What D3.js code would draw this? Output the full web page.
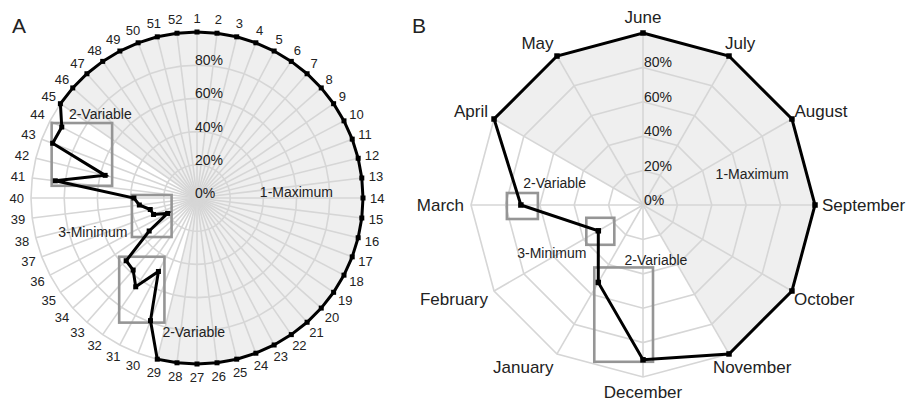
<!DOCTYPE html>
<html><head><meta charset="utf-8">
<script src="https://cdn.jsdelivr.net/npm/d3@7/dist/d3.min.js"></script>
<style>body{margin:0;background:#fff;} text{font-family:"Liberation Sans",Arial,sans-serif;fill:#222;}</style>
</head><body><svg id="chart" width="908" height="402"></svg>
<script>
// ---------- data ----------
const weeks = ["1","2","3","4","5","6","7","8","9","10","11","12","13","14","15","16","17","18","19","20","21","22","23","24","25","26","27","28","29","30","31","32","33","34","35","36","37","38","39","40","41","42","43","44","45","46","47","48","49","50","51","52"];
const weeklyShare = [100,100,100,100,100,100,100,100,100,100,100,100,100,100,100,100,100,100,100,100,100,100,100,100,100,100,100,100,100,
  79,50,65,58,57,35,20,28,29,35,38,86,57,93,92,
  100,100,100,100,100,100,100,100];
const weeklyMaxArea = [100,100,100,100,100,100,100,100,100,100,100,100,100,100,100,100,100,100,100,100,100,100,100,100,100,100,100,100,100,
  0,0,0,0,0,0,0,0,0,0,0,0,0,0,0,
  100,100,100,100,100,100,100,100];
const months = ["June","July","August","September","October","November","December","January","February","March","April","May"];
const monthlyShare = [100,100,100,100,100,100,90,52,30,71,100,100];
const monthlyMaxArea = [100,100,100,100,100,100,0,0,0,0,100,100];
const pctTicks = [0,20,40,60,80,100];
const pctTickLabels = ["0%","20%","40%","60%","80%"];

// annotations (positions in data space: category index, percent)
const annotA = [
  {text:"2-Variable", idx:44.9, v:77},
  {text:"3-Minimum", idx:36.4, v:66},
  {text:"2-Variable", idx:26.2, v:81},
  {text:"1-Maximum", idx:12.5, v:60}
];
const annotB = [
  {text:"2-Variable", idx:9.47, v:53},
  {text:"1-Maximum", idx:2.47, v:66},
  {text:"3-Minimum", idx:8.07, v:60},
  {text:"2-Variable", idx:5.56, v:33}
];
// boxes: enclose points from..to (index) with padding [left,right,top,bottom]
const boxesA = [
  {from:40,to:43,pad:[1,7,4,5]},
  {from:34,to:39,pad:[2,4,3,6]},
  {from:29,to:33,pad:[7,6,4,2]}
];
const boxesB = [
  {from:9,to:9,pad:[14,17,12,14]},
  {from:8,to:8,pad:[12,16,13,14]},
  {from:6,to:7,pad:[4,10,15,2]}
];

// ---------- drawing ----------
const svg = d3.select("#chart");
svg.append("rect").attr("width",908).attr("height",402).attr("fill","#fff");

function radar(cfg){
  const n = cfg.categories.length;
  const ang = d3.scaleLinear().domain([0,n]).range([0,2*Math.PI]);
  const rad = d3.scaleLinear().domain([0,100]).range([0,cfg.R]);
  const g = svg.append("g").attr("transform",`translate(${cfg.cx},${cfg.cy})`);
  const pt = (i,v)=>[rad(v)*Math.sin(ang(i)), -rad(v)*Math.cos(ang(i))];
  const radial = d3.lineRadial().angle((d,i)=>ang(i)).radius(d=>rad(d)).curve(d3.curveLinearClosed);

  // filled "maximum" area
  g.append("path").attr("d", radial(cfg.area)).attr("fill","#efefef").attr("stroke","none");

  // grid rings
  pctTicks.slice(1).forEach(t=>{
    g.append("path").attr("d", radial(cfg.categories.map(()=>t)))
      .attr("fill","none").attr("stroke","#d6d6d6").attr("stroke-width",cfg.gridW);
  });
  // spokes
  g.selectAll("line.spoke").data(cfg.categories).enter().append("line")
    .attr("x1",0).attr("y1",0)
    .attr("x2",(d,i)=>pt(i,100)[0]).attr("y2",(d,i)=>pt(i,100)[1])
    .attr("stroke","#d6d6d6").attr("stroke-width",cfg.gridW);

  // tick labels
  pctTickLabels.forEach((lab,k)=>{
    g.append("text").attr("x",cfg.tickDx).attr("y",-rad(pctTicks[k]) - 5)
      .attr("dy","0.35em").attr("font-size",14).attr("fill","#333").text(lab);
  });

  // boxes
  cfg.boxes.forEach(b=>{
    const ps = d3.range(b.from,b.to+1).map(i=>pt(i,cfg.values[i]));
    const x0 = d3.min(ps,p=>p[0])-b.pad[0], x1 = d3.max(ps,p=>p[0])+b.pad[1];
    const y0 = d3.min(ps,p=>p[1])-b.pad[2], y1 = d3.max(ps,p=>p[1])+b.pad[3];
    g.append("rect").attr("x",x0).attr("y",y0).attr("width",x1-x0).attr("height",y1-y0)
      .attr("fill","none").attr("stroke","#959595").attr("stroke-width",2.6);
  });

  // data line
  g.append("path").attr("d", radial(cfg.values)).attr("fill","none")
    .attr("stroke","#000").attr("stroke-width",3).attr("stroke-linejoin","miter");
  g.selectAll("rect.mk").data(cfg.values).enter().append("rect")
    .attr("x",(d,i)=>pt(i,d)[0]-cfg.mk/2).attr("y",(d,i)=>pt(i,d)[1]-cfg.mk/2)
    .attr("width",cfg.mk).attr("height",cfg.mk).attr("fill","#000");

  // annotation text
  cfg.annot.forEach(a=>{
    const p = pt(a.idx,a.v);
    g.append("text").attr("x",p[0]).attr("y",p[1]).attr("dy","0.35em")
      .attr("text-anchor","middle").attr("font-size",14).text(a.text);
  });

  // category labels
  cfg.categories.forEach((c,i)=>{
    const a = ang(i), s = Math.sin(a), co = Math.cos(a);
    const px = (cfg.R+7)*s, py = -(cfg.R+7)*co - cfg.labFs*0.5*co;
    const t = g.append("text").attr("font-size",cfg.labFs).attr("dy","0.35em").attr("y",py).text(c);
    const w = t.node().getComputedTextLength();
    let x0;
    if (cfg.asym && s < -0.05) x0 = px - w;
    else x0 = px - w*(1 - s)/2;
    t.attr("x", x0);
  });
}

radar({cx:197, cy:198, R:166, categories:weeks, values:weeklyShare, area:weeklyMaxArea,
  gridW:1.6, mk:5, labFs:13, tickDx:-2, annot:annotA, boxes:boxesA, asym:false});
radar({cx:643, cy:205, R:172, categories:months, values:monthlyShare, area:monthlyMaxArea,
  gridW:1.6, mk:5.5, labFs:17, tickDx:1, annot:annotB, boxes:boxesB, asym:true});

svg.append("text").attr("x",12).attr("y",33).attr("font-size",21).text("A");
svg.append("text").attr("x",412).attr("y",33).attr("font-size",21).text("B");
</script></body></html>
